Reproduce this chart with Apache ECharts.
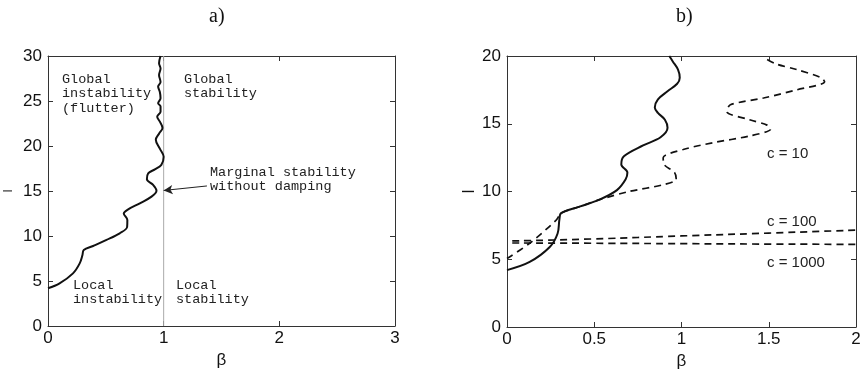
<!DOCTYPE html>
<html><head><meta charset="utf-8">
<script src="https://cdn.jsdelivr.net/npm/echarts@6/dist/echarts.min.js"></script>
<style>html,body{margin:0;padding:0;background:#fff}#c{width:861px;height:371px}</style>
</head><body><div id="c"></div>
<script>
// Panel a) — stability boundary (beta, l)
const curveA = [[0,4.19],[0.10,4.74],[0.216,5.85],[0.274,6.96],[0.298,7.89],[0.309,8.44],[0.39,8.89],[0.506,9.56],[0.62,10.3],[0.684,11.0],[0.686,11.78],[0.655,12.5],[0.693,12.96],[0.794,13.63],[0.895,14.37],[0.938,15.04],[0.909,15.67],[0.855,16.3],[0.866,16.96],[0.924,17.4],[0.98,17.9],[1.0,18.8],[0.967,19.7],[0.932,20.7],[0.961,21.4],[0.99,22.0],[0.967,22.7],[0.944,23.26],[0.973,23.8],[0.973,24.4],[0.952,24.74],[0.973,25.3],[0.967,26.0],[0.952,26.6],[0.973,27.1],[0.96,27.9],[0.973,28.6],[0.96,29.2],[0.973,30.0]];
const marginalLine = [[1,0],[1,30]];
const arrowA = [[1.374,15.56],[1.0,15.06]];

// Panel b)
const solidB = [[0,4.2],[0.13,4.8],[0.245,5.9],[0.29,6.9],[0.30,7.9],[0.31,8.4],[0.42,8.9],[0.53,9.4],[0.63,10.1],[0.68,10.9],[0.69,11.4],[0.655,12.0],[0.67,12.6],[0.78,13.4],[0.88,14.0],[0.92,14.7],[0.905,15.3],[0.865,15.8],[0.847,16.2],[0.865,16.8],[0.92,17.4],[0.975,17.95],[0.99,18.4],[0.98,19.0],[0.95,19.6],[0.93,20]];
const c10 = [[0,5.05],[0.13,6.18],[0.283,7.9],[0.31,8.4],[0.42,8.9],[0.53,9.4],[0.70,10.0],[0.895,10.5],[0.97,10.9],[0.96,11.4],[0.90,12.0],[0.895,12.5],[1.01,13.1],[1.18,13.6],[1.39,14.1],[1.51,14.6],[1.49,14.9],[1.39,15.3],[1.26,15.9],[1.28,16.4],[1.47,16.9],[1.66,17.5],[1.82,18.1],[1.80,18.4],[1.66,19.0],[1.545,19.4],[1.49,19.75]];
const c100 = [[0.03,6.35],[0.5,6.5],[1.0,6.72],[1.5,6.93],[2.0,7.15]];
const c1000 = [[0.03,6.2],[0.5,6.18],[1.0,6.15],[1.5,6.12],[2.0,6.1]];
const ticksA_x = [0,1,2,3], ticksB_x = [0,0.5,1,1.5,2];

const ink = '#111';
const tickFont = {color: ink, fontFamily: 'Liberation Sans', fontSize: 17};
function xAx(grid, max, interval, showLab, pos, gap){
  return {type:'value', gridIndex:grid, min:0, max:max, interval:interval, position:pos,
    name: showLab ? 'β' : '', nameLocation:'middle', nameGap: gap,
    nameTextStyle:{color:ink, fontFamily:'Liberation Sans', fontSize:17},
    axisLine:{show:true, onZero:false, lineStyle:{color:'#333', width:1}},
    axisTick:{show:true, inside:true, length:5, lineStyle:{color:'#333'}},
    axisLabel:{show:showLab, margin:4, ...tickFont, formatter: v => String(v)},
    splitLine:{show:false}};
}
function yAx(grid, max, showLab, pos, gap, nameSize){
  return {type:'value', gridIndex:grid, min:0, max:max, interval:5, position:pos,
    name: showLab ? 'l' : '', nameLocation:'middle', nameGap: gap, nameRotate:90,
    nameTextStyle:{color:ink, fontFamily:'Liberation Sans', fontSize:nameSize},
    axisLine:{show:true, onZero:false, lineStyle:{color:'#333', width:1}},
    axisTick:{show:true, inside:true, length:5, lineStyle:{color:'#333'}},
    axisLabel:{show:showLab, margin:6, ...tickFont},
    splitLine:{show:false}};
}
const mono = {fontFamily:'Liberation Mono', fontSize:13.5, fill:'#222', lineHeight:14.5};
const sans = {fontFamily:'Liberation Sans', fontSize:15, fill:'#222'};
function txt(x,y,t,st){return {type:'text', left:x, top:y, style:{text:t, ...st}};}

const chart = echarts.init(document.getElementById('c'));
chart.setOption({
  animation:false,
  backgroundColor:'#fff',
  title:[
    {text:'a)', left:204, top:2, textStyle:{fontFamily:'Liberation Serif', fontSize:20, fontWeight:'normal', color:ink}},
    {text:'b)', left:671, top:2, textStyle:{fontFamily:'Liberation Serif', fontSize:20, fontWeight:'normal', color:ink}}
  ],
  grid:[
    {left:48, top:56, width:347, height:270, containLabel:false, outerBoundsMode:'none'},
    {left:507, top:56, width:349, height:271, containLabel:false, outerBoundsMode:'none'}
  ],
  xAxis:[ xAx(0,3,1,true,'bottom',23), xAx(0,3,1,false,'top',0),
          xAx(1,2,0.5,true,'bottom',23), xAx(1,2,0.5,false,'top',0) ],
  yAxis:[ yAx(0,30,true,'left',33,12), yAx(0,30,false,'right',0,12),
          yAx(1,20,true,'left',29,16), yAx(1,20,false,'right',0,16) ],
  series:[
    {type:'line', xAxisIndex:0, yAxisIndex:0, data:marginalLine, symbol:'none', lineStyle:{color:'#aaa', width:1}, z:1},
    {type:'line', xAxisIndex:0, yAxisIndex:0, data:curveA, symbol:'none', smooth:0.35, lineStyle:{color:ink, width:2}, z:3,
      markLine:{silent:true, symbol:['none','arrow'], symbolSize:[7,9], label:{show:false},
        lineStyle:{color:'#222', width:1, type:'solid'},
        data:[[{coord:arrowA[0]},{coord:arrowA[1]}]]}},
    {type:'line', xAxisIndex:2, yAxisIndex:2, data:solidB, symbol:'none', smooth:0.35, lineStyle:{color:ink, width:2}, z:3},
    {type:'line', xAxisIndex:2, yAxisIndex:2, data:c10, symbol:'none', smooth:0.3, lineStyle:{color:ink, width:1.7, type:[7,5]}, z:2},
    {type:'line', xAxisIndex:2, yAxisIndex:2, data:c100, symbol:'none', smooth:true, lineStyle:{color:ink, width:1.7, type:[7,5]}, z:2},
    {type:'line', xAxisIndex:2, yAxisIndex:2, data:c1000, symbol:'none', smooth:true, lineStyle:{color:ink, width:1.7, type:[7,5]}, z:2}
  ],
  graphic:[
    txt(62,72,'Global\ninstability\n(flutter)',mono),
    txt(184,72,'Global\nstability',mono),
    txt(210,165,'Marginal stability\nwithout damping',mono),
    txt(73,278,'Local\ninstability',mono),
    txt(176,278,'Local\nstability',mono),
    txt(767,146,'c = 10',sans),
    txt(767,214,'c = 100',sans),
    txt(767,255,'c = 1000',sans)
  ]
});
</script></body></html>
